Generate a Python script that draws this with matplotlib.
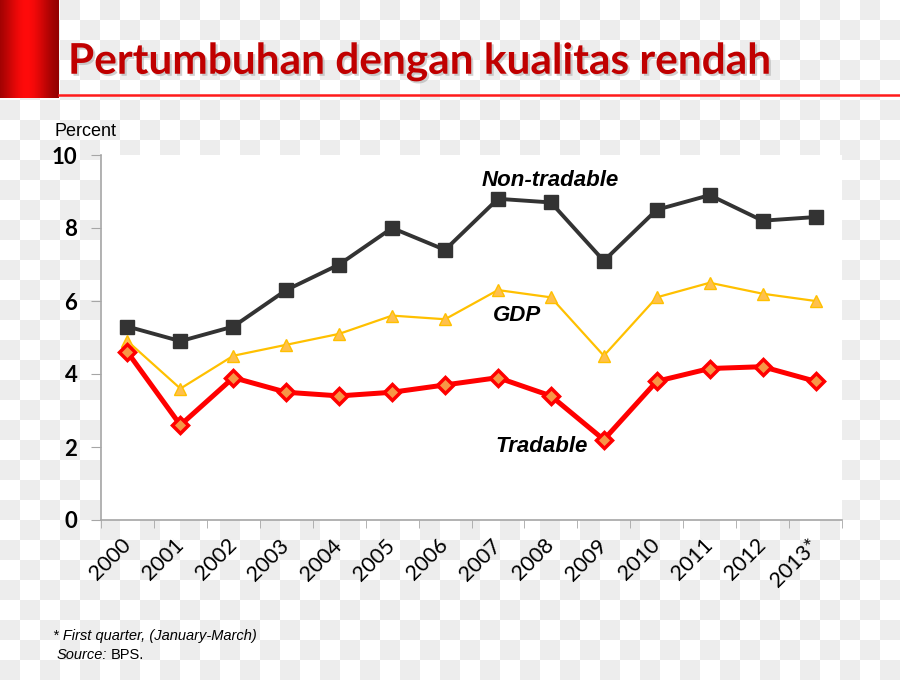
import numpy as np
import matplotlib
matplotlib.use("Agg")
import matplotlib.pyplot as plt
import matplotlib.patheffects as pe

# data (percent growth)
years = ["2000", "2001", "2002", "2003", "2004", "2005", "2006",
         "2007", "2008", "2009", "2010", "2011", "2012", "2013*"]
non_tradable = [5.3, 4.9, 5.3, 6.3, 7.0, 8.0, 7.4, 8.8, 8.7, 7.1, 8.5, 8.9, 8.2, 8.3]
gdp = [4.9, 3.6, 4.5, 4.8, 5.1, 5.6, 5.5, 6.3, 6.1, 4.5, 6.1, 6.5, 6.2, 6.0]
tradable = [4.6, 2.6, 3.9, 3.5, 3.4, 3.5, 3.7, 3.9, 3.4, 2.2, 3.8, 4.15, 4.2, 3.8]

W, H = 900, 680
fig = plt.figure(figsize=(W / 100, H / 100), dpi=100)

# background layer in pixel coords (checkerboard, red bar, red rule)
bg = fig.add_axes([0, 0, 1, 1])
bg.axis("off")
rows, cols = H // 20 + 1, W // 20 + 1
jj, ii = np.meshgrid(np.arange(cols), np.arange(rows))
board = np.where((ii + jj) % 2 == 1, 0.933, 1.0)
bg.imshow(np.dstack([board] * 3), extent=(0, cols * 20, rows * 20, 0),
          interpolation="nearest", aspect="auto", zorder=0)

# gradient bar at top left
gx = np.linspace(0, 1, 60)
prof = np.exp(-((gx - 0.45) / 0.4) ** 2)
grad = np.zeros((1, 60, 3))
grad[0, :, 0] = 0.5 + 0.5 * prof
grad[0, :, 1] = 0.04 * prof
grad[0, :, 2] = 0.04 * prof
bg.imshow(grad, extent=(0, 59, 98, 0), aspect="auto", interpolation="bilinear", zorder=1)
bg.plot([59, W], [95, 95], color="#ff1a1a", lw=1.8, zorder=2)
bg.set_xlim(0, W)
bg.set_ylim(H, 0)

# title with soft shadow
title = "Pertumbuhan dengan kualitas rendah"
fig.text(68 / W, 1 - 62 / H, title, fontsize=30.5, fontweight="bold", family="Lato",
         color="#c00000", va="center", ha="left",
         path_effects=[pe.withSimplePatchShadow(offset=(1.5, -1.5),
                                                shadow_rgbFace="#999999", alpha=0.45)])

# main chart
ax = fig.add_axes([101 / W, 160 / H, 741 / W, 365 / H])
ax.set_facecolor("white")
x = np.arange(len(years))

ax.plot(x, non_tradable, color="#333333", lw=2.8, marker="s", markersize=10,
        markerfacecolor="#333333", markeredgecolor="#333333", zorder=3)
ax.plot(x, gdp, color="#ffc000", lw=1.6, marker="^", markersize=8,
        markerfacecolor="#ffc04d", markeredgecolor="#ffc000", zorder=3)
ax.plot(x, tradable, color="#ff0000", lw=3.6, marker="D", markersize=8,
        markerfacecolor="#f79646", markeredgecolor="#ff0000", markeredgewidth=2.5, zorder=4)

lab = dict(fontsize=16, fontweight="bold", style="italic", family="Liberation Sans",
           color="black", ha="center", va="center")
ax.text(7.98, 9.3, "Non-tradable", **lab)
ax.text(7.36, 5.6, "GDP", **lab)
ax.text(7.83, 2.0, "Tradable", **lab)

ax.set_xlim(-0.5, len(years) - 0.5)
ax.set_ylim(0, 10)
ax.set_yticks([0, 2, 4, 6, 8, 10])
for s in ["top", "right"]:
    ax.spines[s].set_visible(False)
for s in ["left", "bottom"]:
    ax.spines[s].set_color("#a6a6a6")
    ax.spines[s].set_linewidth(1.2)

ax.set_xticks(x)
ax.set_xticks(np.arange(-0.5, len(years), 1), minor=True)
ax.set_xticklabels(years, rotation=45, ha="right", va="center",
                   rotation_mode="anchor", fontsize=15.5, family="Lato")
ax.tick_params(axis="x", which="major", length=0, pad=16)
ax.tick_params(axis="x", which="minor", length=6, color="#a6a6a6", direction="out")
ax.tick_params(axis="y", length=7, color="#a6a6a6", direction="out", pad=10)
for t in ax.get_yticklabels():
    t.set_fontsize(16)
    t.set_fontweight("bold")
    t.set_family("Lato")

fig.text(55 / W, 1 - 131 / H, "Percent", fontsize=13, family="Liberation Sans",
         va="center", ha="left")

fig.text(53 / W, 1 - 636 / H, "* First quarter, (January-March)", fontsize=10.5,
         style="italic", family="Liberation Sans", va="center", ha="left")
src = fig.text(57 / W, 1 - 655 / H, "Source:", fontsize=10.5, style="italic",
               family="Liberation Sans", va="center", ha="left")
ax.annotate("BPS.", xy=(1, 0.5), xycoords=src, xytext=(2, 0), textcoords="offset points",
            fontsize=10.5, family="Liberation Sans",
            va="center", ha="left", annotation_clip=False)

fig.savefig("out.png", dpi=100)
